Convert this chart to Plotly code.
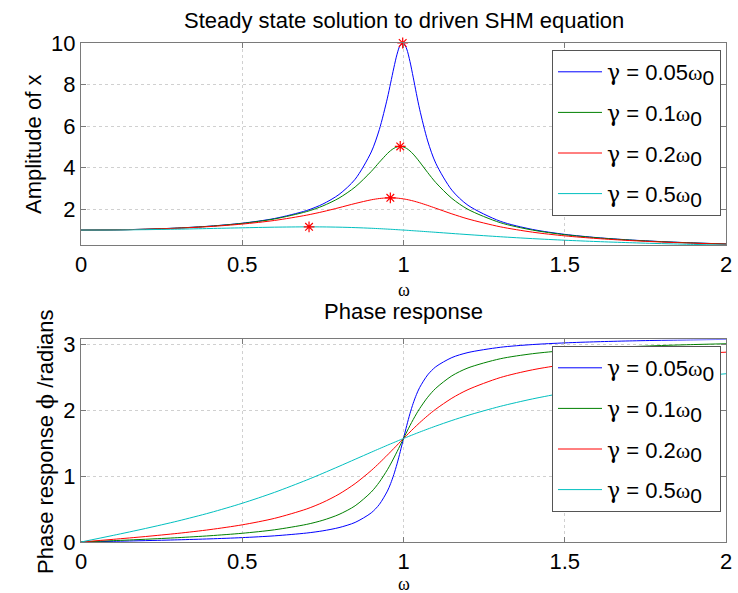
import plotly.graph_objects as go

# Frequency samples (omega / omega_0)
omega = [0, 0.1, 0.2, 0.3, 0.4, 0.5, 0.6, 0.7, 0.75, 0.8, 0.85, 0.9, 0.925, 0.95, 0.96, 0.97,
         0.98, 0.99, 1.0, 1.01, 1.02, 1.03, 1.04, 1.05, 1.075, 1.1, 1.15, 1.2, 1.3, 1.4, 1.5,
         1.6, 1.7, 1.8, 1.9, 2.0]

# Amplitude curves
amp_005 = [1.0, 1.0101, 1.0414, 1.0983, 1.1891, 1.3304, 1.5557, 1.9426, 2.2528, 2.7116, 3.4455,
           4.7565, 5.832, 7.346, 8.068, 8.804, 9.461, 9.903, 10.0, 9.711, 9.115, 8.357, 7.565,
           6.815, 5.287, 4.218, 2.9206, 2.1926, 1.4242, 1.0308, 0.7943, 0.6377, 0.5270, 0.4450,
           0.3821, 0.3326]
amp_01 = [1.0, 1.0099, 1.0408, 1.0965, 1.1851, 1.3216, 1.5357, 1.8908, 2.1621, 2.5384, 3.0728,
          3.8208, 4.2614, 4.6826, 4.8218, 4.9310, 5.0010, 5.0252, 5.0, 4.9261, 4.8086, 4.6552,
          4.4756, 4.2794, 3.7677, 3.2880, 2.5245, 1.9952, 1.3562, 1.0, 0.7779, 0.6280, 0.5207,
          0.4408, 0.3791, 0.3304]
amp_02 = [1.0, 1.0093, 1.0381, 1.0895, 1.1695, 1.2883, 1.4630, 1.7188, 1.8851, 2.0762, 2.2785,
          2.4566, 2.5178, 2.5490, 2.5515, 2.5479, 2.5381, 2.5221, 2.5, 2.4722, 2.4390, 2.4011,
          2.3589, 2.3130, 2.1867, 2.0511, 1.7800, 1.5357, 1.1574, 0.8998, 0.7212, 0.5931,
          0.4979, 0.4250, 0.3679, 0.3221]
amp_05 = [1.0, 1.0050, 1.0198, 1.0436, 1.0748, 1.1094, 1.1399, 1.1546, 1.1517, 1.1399, 1.1184,
          1.0871, 1.0681, 1.0471, 1.0382, 1.0290, 1.0196, 1.0099, 1.0, 0.9899, 0.9796, 0.9692,
          0.9586, 0.9479, 0.9206, 0.8930, 0.8373, 0.7824, 0.6795, 0.5891, 0.5121, 0.4475,
          0.3934, 0.3480, 0.3098, 0.2774]

# Phase curves (radians)
ph_005 = [0.0, 0.0101, 0.0208, 0.0330, 0.0476, 0.0666, 0.0935, 0.1364, 0.1698, 0.2187, 0.2973,
          0.4424, 0.5697, 0.7724, 0.8856, 1.0236, 1.1864, 1.3724, 1.5708, 1.7672, 1.9480, 2.1050,
          2.2363, 2.3442, 2.5371, 2.6593, 2.7992, 2.8755, 2.9554, 2.9968, 3.0222, 3.0394,
          3.0519, 3.0614, 3.0689, 3.0750]
ph_01 = [0.0, 0.0202, 0.0416, 0.0658, 0.0950, 0.1326, 0.1853, 0.2679, 0.3302, 0.4182, 0.5496,
         0.7585, 0.9082, 1.0966, 1.1828, 1.2751, 1.3714, 1.4706, 1.5708, 1.6700, 1.7663, 1.8583,
         1.9447, 2.0245, 2.1973, 2.3325, 2.5220, 2.6423, 2.7813, 2.8578, 2.9061, 2.9393, 2.9636,
         2.9822, 2.9970, 3.0090]
ph_02 = [0.0, 0.0404, 0.0831, 0.1311, 0.1882, 0.2606, 0.3588, 0.5020, 0.6009, 0.7266, 0.8865,
         1.0852, 1.1990, 1.3196, 1.3694, 1.4196, 1.4701, 1.5206, 1.5708, 1.6205, 1.6695, 1.7176,
         1.7645, 1.8102, 1.9181, 2.0160, 2.1824, 2.3127, 2.4957, 2.6135, 2.6940, 2.7519, 2.7962,
         2.8306, 2.8583, 2.8810]
ph_05 = [0.0, 0.1007, 0.2054, 0.3182, 0.4443, 0.5880, 0.7532, 0.9409, 1.0427, 1.1480, 1.2554,
         1.3628, 1.4160, 1.4685, 1.4893, 1.5100, 1.5304, 1.5507, 1.5708, 1.5907, 1.6104, 1.6299,
         1.6491, 1.6681, 1.7146, 1.7594, 1.8442, 1.9223, 2.0588, 2.1717, 2.2655, 2.3435, 2.4090,
         2.4648, 2.5120, 2.5536]

# Resonance peaks (red stars)
peak_w = [0.9975, 0.9899, 0.9592, 0.7071]
peak_amp = [10.0, 5.0252, 2.5516, 1.1547]

labels = ["0.05", "0.1", "0.2", "0.5"]
colors = ["#0000ff", "#008000", "#ff0000", "#00bfbf"]
amps = [amp_005, amp_01, amp_02, amp_05]
phases = [ph_005, ph_01, ph_02, ph_05]

x_ticks = [0, 0.5, 1, 1.5, 2]
amp_ticks = [2, 4, 6, 8, 10]
ph_ticks = [0, 1, 2, 3]

SANS = "Liberation Sans, Arial, sans-serif"
SERIF = "Liberation Serif, Times New Roman, serif"

def leg_name(g):
    return ('<span style="font-family:DejaVu Serif">γ</span> = ' + g +
            '<span style="font-family:Liberation Serif">ω</span>'
            '<sub><span style="font-size:21px">0</span></sub>')

fig = go.Figure()
for lab, col, a in zip(labels, colors, amps):
    fig.add_trace(go.Scatter(x=omega, y=a, mode="lines",
                             line=dict(color=col, width=1, shape="spline", smoothing=0.8),
                             name=leg_name(lab), xaxis="x", yaxis="y", legend="legend",
                             legendgroup="a" + lab))
fig.add_trace(go.Scatter(x=peak_w, y=peak_amp, mode="markers", showlegend=False,
                         marker=dict(symbol="asterisk-open", size=9, color="red",
                                     line=dict(color="red", width=1.2)),
                         xaxis="x", yaxis="y", cliponaxis=False))
for lab, col, p in zip(labels, colors, phases):
    fig.add_trace(go.Scatter(x=omega, y=p, mode="lines",
                             line=dict(color=col, width=1, shape="spline", smoothing=0.8),
                             name=leg_name(lab), xaxis="x2", yaxis="y2", legend="legend2",
                             legendgroup="p" + lab))

axis_common = dict(
    showline=True, linecolor="#7a7a7a", linewidth=1, mirror="ticks",
    ticks="inside", ticklen=5, tickcolor="#7a7a7a", automargin=False,
    showgrid=True, gridcolor="#d0d0d0", griddash="dot", gridwidth=1,
    zeroline=False, tickfont=dict(family=SANS, size=22, color="black"),
)

legend_common = dict(xanchor="left", yanchor="top", bgcolor="white",
                     bordercolor="#555555", borderwidth=1,
                     font=dict(family=SANS, size=22, color="black"),
                     tracegroupgap=9, itemwidth=44)

fig.update_layout(
    width=738, height=593, autosize=False,
    paper_bgcolor="white", plot_bgcolor="white",
    margin=dict(l=81, r=12, t=43, b=51, autoexpand=False),
    font=dict(family=SANS, color="black"),
    xaxis=dict(domain=[0, 1], range=[0, 2], tickvals=x_ticks, anchor="y", **axis_common),
    yaxis=dict(domain=[0.595, 1], range=[0.2774, 10], tickvals=amp_ticks, anchor="x", **axis_common),
    xaxis2=dict(domain=[0, 1], range=[0, 2], tickvals=x_ticks, anchor="y2", **axis_common),
    yaxis2=dict(domain=[0, 0.406], range=[0, 3.075], tickvals=ph_ticks, anchor="x2", **axis_common),
    legend=dict(x=(552 - 81) / 645, y=(542 - 50) / 499, **legend_common),
    legend2=dict(x=(552 - 81) / 645, y=(542 - 346) / 499, **legend_common),
    showlegend=True,
)

annotations = []
for text, ypx in [("Steady state solution to driven SHM equation", 20), ("Phase response", 311)]:
    annotations.append(dict(text=text, xref="paper", yref="paper", x=0.5,
                            y=(542 - ypx) / 499, xanchor="center", yanchor="middle",
                            showarrow=False, font=dict(family=SANS, size=22, color="black")))
for ypx in [290, 584]:
    annotations.append(dict(text="ω", xref="paper", yref="paper", x=(403.5 - 81) / 645,
                            y=(542 - ypx) / 499, showarrow=False, xanchor="center",
                            yanchor="middle", font=dict(family=SERIF, size=18, color="black")))
annotations.append(dict(text="Amplitude of x", xref="paper", yref="paper", x=(33 - 81) / 645,
                        y=(542 - 145) / 499, showarrow=False, textangle=-90,
                        xanchor="center", yanchor="middle",
                        font=dict(family=SANS, size=22, color="black")))
annotations.append(dict(text='Phase response <span style="font-family:DejaVu Serif">ϕ</span> /radians',
                        xref="paper", yref="paper", x=(45 - 81) / 645,
                        y=(542 - 442) / 499, showarrow=False, textangle=-90,
                        xanchor="center", yanchor="middle",
                        font=dict(family=SANS, size=22, color="black")))
fig.update_layout(annotations=annotations)

fig.write_html("out.html", config={"staticPlot": True, "displayModeBar": False, "responsive": False},
               post_script="document.body.style.margin='0';document.body.style.overflow='hidden';")
